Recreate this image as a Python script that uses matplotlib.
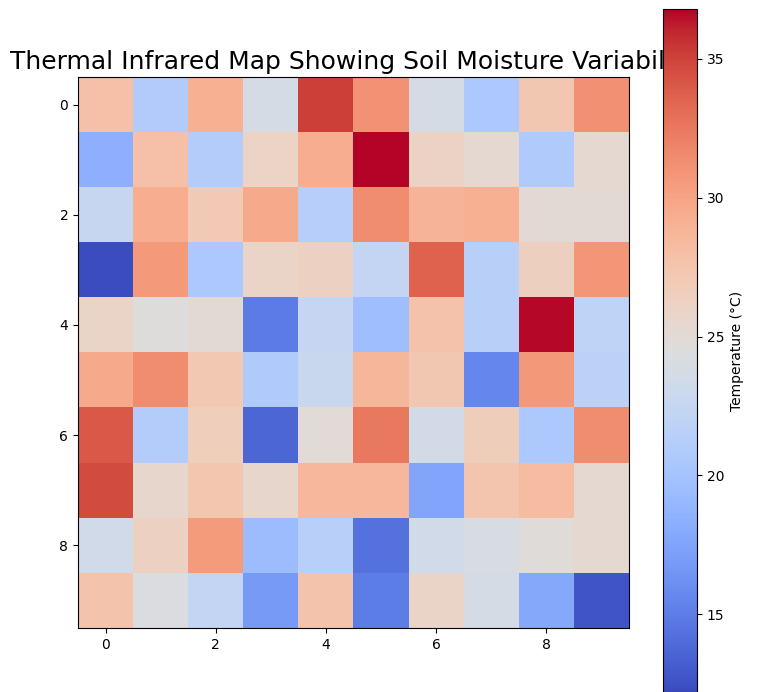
import numpy as np
import matplotlib
matplotlib.use("Agg")
import matplotlib.pyplot as plt

# temperature per grid cell, read row by row from the map
row0 = [27.9, 21.0, 29.2, 23.8, 35.1, 31.1, 23.8, 20.6, 27.2, 31.2]
row1 = [18.4, 27.9, 21.1, 26.0, 29.4, 36.8, 26.1, 25.2, 20.8, 25.2]
row2 = [22.5, 29.4, 27.0, 29.5, 21.3, 31.4, 28.9, 29.2, 25.0, 25.0]
row3 = [12.2, 30.6, 20.6, 25.9, 26.2, 22.3, 33.6, 21.5, 26.4, 30.8]
row4 = [25.9, 24.5, 25.1, 14.9, 22.4, 19.6, 27.7, 21.5, 36.7, 22.0]
row5 = [29.5, 31.4, 27.1, 20.9, 22.8, 28.7, 27.2, 15.6, 30.7, 21.8]
row6 = [34.1, 21.1, 26.6, 13.7, 24.9, 32.4, 23.6, 26.7, 20.6, 31.4]
row7 = [34.6, 25.6, 27.3, 25.6, 28.6, 28.6, 17.6, 27.4, 28.2, 25.2]
row8 = [23.5, 26.2, 30.5, 19.5, 21.4, 14.4, 23.5, 24.0, 24.7, 25.3]
row9 = [27.6, 24.3, 22.3, 16.9, 27.6, 15.0, 25.9, 23.8, 17.8, 12.7]

temps = np.array([row0, row1, row2, row3, row4, row5, row6, row7, row8, row9])

fig = plt.figure(figsize=(7.63, 6.92), dpi=100)
ax = fig.add_axes([78/763, 1 - 628/692, 551/763, 551/692])
im = ax.imshow(temps, cmap='coolwarm', interpolation='nearest')
ax.set_title("Thermal Infrared Map Showing Soil Moisture Variability", fontsize=18)

cax = fig.add_axes([663/763, 0.0, 34/763, (692 - 9)/692])
cbar = fig.colorbar(im, cax=cax)
cbar.set_label("Temperature (°C)")

fig.savefig("out.png", dpi=100)
